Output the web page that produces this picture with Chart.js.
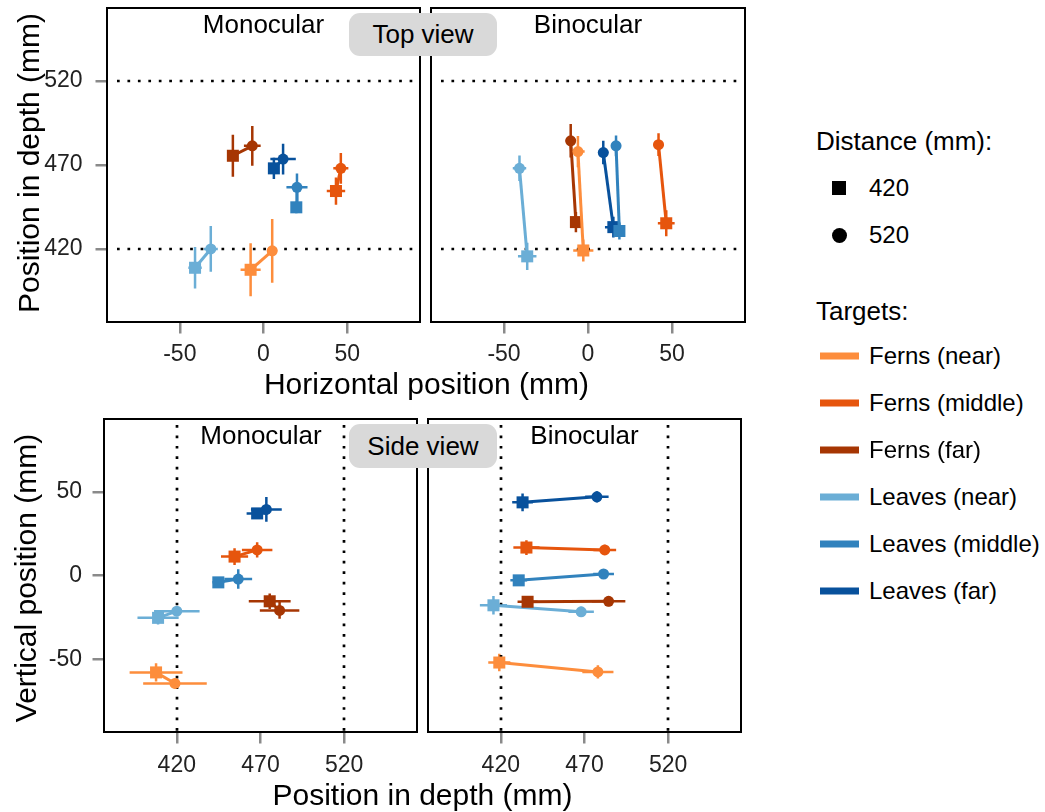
<!DOCTYPE html>
<html>
<head>
<meta charset="utf-8">
<title>Top view / Side view</title>
<script src="https://cdn.jsdelivr.net/npm/chart.js@4.4.1/dist/chart.umd.min.js"></script>
<style>
  body { margin: 0; background: #fff; font-family: "Liberation Sans", Arial, Helvetica, sans-serif; }
  #wrap { position: relative; width: 1045px; height: 812px; overflow: hidden; }
  canvas { position: absolute; }
  .txt { position: absolute; transform: translate(-50%, -50%); white-space: nowrap; line-height: 1.15; color: #000; }
  .panel { font-size: 26px; }
  .title { font-size: 30px; }
  .rot { transform: translate(-50%, -50%) rotate(-90deg); }
  .box { position: absolute; width: 148px; background: #d9d9d9; border-radius: 11px;
         font-size: 26px; display: flex; align-items: center; justify-content: center; }
  .leg { position: absolute; font-size: 24px; line-height: 1.15; white-space: nowrap; transform: translateY(-50%); }
  .legTitle { font-size: 26px; }
  .sw { position: absolute; width: 39px; height: 7px; transform: translateY(-50%); }
</style>
</head>
<body>
<div id="wrap">
  <canvas id="topMono" width="425" height="385" style="left:0;top:0"></canvas>
  <canvas id="topBino" width="340" height="385" style="left:425px;top:0"></canvas>
  <canvas id="sideMono" width="425" height="412" style="left:0;top:400px"></canvas>
  <canvas id="sideBino" width="340" height="412" style="left:425px;top:400px"></canvas>

  <div class="txt panel" style="left:263.5px;top:24.5px">Monocular</div>
  <div class="txt panel" style="left:588px;top:24.5px">Binocular</div>
  <div class="box" style="left:349px;top:13px;height:43px">Top view</div>
  <div class="txt panel" style="left:261px;top:436px">Monocular</div>
  <div class="txt panel" style="left:584.5px;top:436px">Binocular</div>
  <div class="box" style="left:349px;top:424px;height:44px">Side view</div>

  <div class="txt title" style="left:426.5px;top:383.5px">Horizontal position (mm)</div>
  <div class="txt title" style="left:422.5px;top:795px">Position in depth (mm)</div>
  <div class="txt title rot" style="left:29px;top:162.5px">Position in depth (mm)</div>
  <div class="txt title rot" style="left:26px;top:577.5px">Vertical position (mm)</div>

  <div id="legend"></div>
</div>
<script>
// distances of the two target planes (square = 420, circle = 520)
const distances = [420, 520];
const targets = ['Ferns (near)', 'Ferns (middle)', 'Ferns (far)', 'Leaves (near)', 'Leaves (middle)', 'Leaves (far)'];
const targetColors = ['#fd8d3c', '#e6550d', '#a63603', '#6baed6', '#3182bd', '#08519c'];

const horizTicks = [-50, 0, 50];
const depthTicks = [420, 470, 520];
const vertTicks = [-50, 0, 50];

// monocular, 420 mm
const monoHoriz420 = [-7.7, 43.3, -18.3, -40.9, 19.6, 6.2];
const monoHorizErr420 = [6, 5.5, 3, 4, 2, 3];
const monoDepth420 = [407.6, 454.5, 475.5, 408.8, 444.8, 468];
const monoDepthErr420 = [15.8, 8.1, 12.5, 12.3, 3.5, 6.3];
const monoVert420 = [-57.9, 11.3, -15.4, -25.3, -4.1, 37.1];
const monoVertErr420 = [5.5, 5, 4.6, 4, 2, 3];
// monocular, 520 mm
const monoHoriz520 = [5.2, 46.2, -6.7, -31.5, 20, 11.7];
const monoHorizErr520 = [3, 4.5, 5, 4.2, 6.3, 7.6];
const monoDepth520 = [418.9, 468, 481.4, 420, 456.7, 473.5];
const monoDepthErr520 = [19, 9.1, 11.8, 13.6, 8.3, 9.2];
const monoVert520 = [-64.5, 15.3, -20.9, -21.3, -2.1, 39.5];
const monoVertErr520 = [3, 4.6, 5, 2, 5.8, 7.4];
// binocular, 420 mm
const binoHoriz420 = [-2.8, 46.6, -7.2, -36.2, 18.7, 15.1];
const binoHorizErr420 = [6, 5, 3, 5.5, 3, 5];
const binoDepth420 = [419.1, 435.3, 436, 415.6, 430.7, 433];
const binoDepthErr420 = [6.6, 7.8, 6, 8.1, 5, 6.2];
const binoVert420 = [-52, 16.7, -15.7, -17.8, -2.9, 43.7];
const binoVertErr420 = [5.2, 4.4, 3, 5.5, 3, 5.3];
// binocular, 520 mm
const binoHoriz520 = [-6, 42, -10.3, -40.8, 16.7, 9.1];
const binoHorizErr520 = [4, 3, 3, 4, 3, 3];
const binoDepth520 = [478, 482.1, 484.4, 468, 481.4, 477.4];
const binoDepthErr520 = [9.3, 6.8, 10, 7.6, 6.2, 7];
const binoVert520 = [-57.6, 15.3, -15.4, -21.7, 0.9, 47];
const binoVertErr520 = [4, 3, 3, 3, 3, 3.4];

const FONT = '"Liberation Sans", Arial, Helvetica, sans-serif';

// error bars drawn under the points
const errorBars = {
  id: 'errorBars',
  beforeDatasetsDraw(chart) {
    const { ctx, scales: { x, y } } = chart;
    ctx.save();
    ctx.lineWidth = 2.5;
    chart.data.datasets.forEach(ds => {
      ctx.strokeStyle = ds.borderColor;
      ds.data.forEach(p => {
        const px = x.getPixelForValue(p.x), py = y.getPixelForValue(p.y);
        ctx.beginPath();
        ctx.moveTo(x.getPixelForValue(p.x - p.xe), py);
        ctx.lineTo(x.getPixelForValue(p.x + p.xe), py);
        ctx.moveTo(px, y.getPixelForValue(p.y - p.ye));
        ctx.lineTo(px, y.getPixelForValue(p.y + p.ye));
        ctx.stroke();
      });
    });
    ctx.restore();
  }
};

// dotted lines at the real target distances + panel frame
const refLines = {
  id: 'refLines',
  beforeDatasetsDraw(chart, args, opts) {
    const { ctx, chartArea: a } = chart;
    const s = chart.scales[opts.axis];
    ctx.save();
    ctx.strokeStyle = '#000';
    ctx.lineWidth = 2.7;
    ctx.setLineDash([2.7, 7.75]);
    opts.values.forEach(v => {
      const p = Math.round(s.getPixelForValue(v));
      ctx.beginPath();
      if (opts.axis === 'y') { ctx.moveTo(a.left + 10, p); ctx.lineTo(a.right, p); }
      else { ctx.moveTo(p, a.top + 6); ctx.lineTo(p, a.bottom); }
      ctx.stroke();
    });
    ctx.restore();
  },
  afterDraw(chart) {
    const { ctx, chartArea: a } = chart;
    ctx.save();
    ctx.strokeStyle = '#000';
    ctx.lineWidth = 2;
    ctx.strokeRect(a.left, a.top, a.right - a.left, a.bottom - a.top);
    ctx.restore();
  }
};

function buildDatasets(h420, he420, v420, ve420, h520, he520, v520, ve520) {
  return targets.map((t, i) => ({
    label: t,
    data: [
      { x: h420[i], y: v420[i], xe: he420[i], ye: ve420[i] },
      { x: h520[i], y: v520[i], xe: he520[i], ye: ve520[i] }
    ],
    showLine: true,
    borderColor: targetColors[i],
    backgroundColor: targetColors[i],
    borderWidth: 3,
    pointStyle: ['rect', 'circle'],
    pointRadius: [8.5, 5.5],
    pointBorderWidth: 0,
    pointHoverRadius: [8.5, 5.5]
  }));
}

function axis(min, max, ticks, show, size, pad) {
  return {
    type: 'linear', min: min, max: max, display: show,
    afterBuildTicks: s => { s.ticks = ticks.map(v => ({ value: v })); },
    grid: { drawOnChartArea: false, drawTicks: true, tickLength: 11.5, color: '#8a8a8a', lineWidth: 2.5 },
    border: { display: false },
    ticks: { color: '#222', font: { family: FONT, size: 23 }, padding: pad, callback: v => String(v) },
    afterFit: s => {
      if (s.isHorizontal()) s.height = size; else s.width = size;
      s.paddingTop = 0; s.paddingBottom = 0; s.paddingLeft = 0; s.paddingRight = 0;
    }
  };
}

function makeChart(id, datasets, xAxis, yAxis, padding, refAxis) {
  return new Chart(document.getElementById(id), {
    type: 'scatter',
    data: { datasets: datasets },
    options: {
      responsive: false,
      animation: false,
      layout: { padding: padding, autoPadding: false },
      scales: { x: xAxis, y: yAxis },
      plugins: {
        legend: { display: false },
        tooltip: { enabled: false },
        refLines: { axis: refAxis, values: distances }
      }
    },
    plugins: [errorBars, refLines]
  });
}

const hRange = [-93.5, 93.5], dRange = [376.5, 563.5], vRange = [-93.5, 93.5];

// top view: horizontal vs depth
makeChart('topMono',
  buildDatasets(monoHoriz420, monoHorizErr420, monoDepth420, monoDepthErr420,
                monoHoriz520, monoHorizErr520, monoDepth520, monoDepthErr520),
  axis(hRange[0], hRange[1], horizTicks, true, 63, 7),
  axis(dRange[0], dRange[1], depthTicks, true, 107, 13),
  { top: 8, right: 5, left: 0, bottom: 0 }, 'y');

makeChart('topBino',
  buildDatasets(binoHoriz420, binoHorizErr420, binoDepth420, binoDepthErr420,
                binoHoriz520, binoHorizErr520, binoDepth520, binoDepthErr520),
  axis(hRange[0], hRange[1], horizTicks, true, 63, 7),
  axis(dRange[0], dRange[1], depthTicks, false, 0, 0),
  { top: 8, right: 20, left: 6, bottom: 0 }, 'y');

// side view: depth vs vertical
makeChart('sideMono',
  buildDatasets(monoDepth420, monoDepthErr420, monoVert420, monoVertErr420,
                monoDepth520, monoDepthErr520, monoVert520, monoVertErr520),
  axis(dRange[0], dRange[1], depthTicks, true, 80, 8),
  axis(vRange[0], vRange[1], vertTicks, true, 104, 10.5),
  { top: 19, right: 8, left: 0, bottom: 0 }, 'x');

makeChart('sideBino',
  buildDatasets(binoDepth420, binoDepthErr420, binoVert420, binoVertErr420,
                binoDepth520, binoDepthErr520, binoVert520, binoVertErr520),
  axis(dRange[0], dRange[1], depthTicks, true, 80, 8),
  axis(vRange[0], vRange[1], vertTicks, false, 0, 0),
  { top: 19, right: 24, left: 3, bottom: 0 }, 'x');

// legend
const legend = document.getElementById('legend');
let html = '<div class="leg legTitle" style="left:816px;top:142px">Distance (mm):</div>';
html += '<div style="position:absolute;left:832px;top:181px;width:14px;height:14px;background:#000"></div>';
html += '<div class="leg" style="left:869px;top:188px">' + distances[0] + '</div>';
html += '<div style="position:absolute;left:831.5px;top:227.5px;width:15px;height:15px;border-radius:50%;background:#000"></div>';
html += '<div class="leg" style="left:869px;top:235px">' + distances[1] + '</div>';
html += '<div class="leg legTitle" style="left:816px;top:312px">Targets:</div>';
targets.forEach((t, i) => {
  const yc = 356 + i * 47;
  html += '<div class="sw" style="left:820px;top:' + yc + 'px;background:' + targetColors[i] + '"></div>';
  html += '<div class="leg" style="left:869px;top:' + yc + 'px">' + t + '</div>';
});
legend.innerHTML = html;
</script>
</body>
</html>
